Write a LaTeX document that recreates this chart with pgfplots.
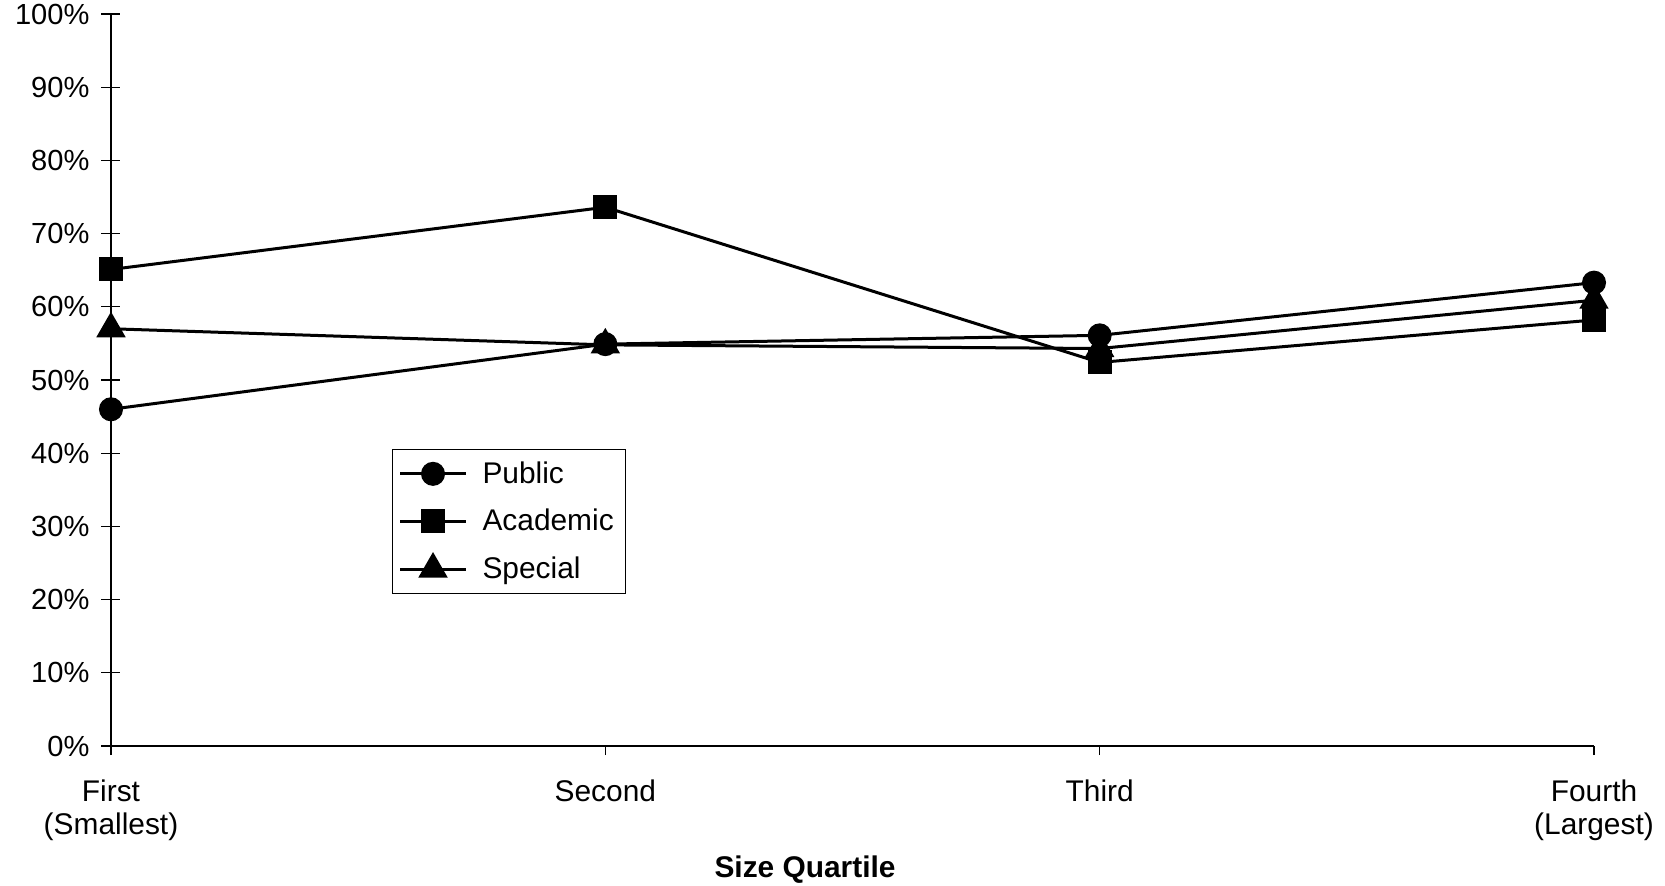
\documentclass[border=0pt]{standalone}
\usepackage{pgfplots}
\pgfplotsset{compat=1.18}
\usepackage{fontspec}
\setmainfont{Liberation Sans}
\begin{document}
\begin{tikzpicture}
\begin{axis}[
  scale only axis,
  width=741.5bp, height=366bp,
  at={(0,0)}, anchor=south west,
  xmin=0, xmax=3, ymin=0, ymax=100,
  axis x line*=bottom, axis y line*=left,
  axis line style={line width=0.6bp, black},
  xtick={0,1,2,3},
  xticklabels={First\\(Smallest), Second, Third, Fourth\\(Largest)},
  xticklabel style={align=center, font=\fontsize{15}{16.5}\selectfont, yshift=-9bp},
  ytick={0,10,...,100},
  yticklabels={0\%,10\%,20\%,30\%,40\%,50\%,60\%,70\%,80\%,90\%,100\%},
  yticklabel style={font=\fontsize{14.6}{16.5}\selectfont, xshift=-3bp},
  xtick style={line width=0.6bp, black, /pgfplots/major tick length=4.5bp},
  ytick style={line width=0.6bp, black, /pgfplots/major tick length=9.5bp},
  tick align=outside,
  y tick style={/pgfplots/tick align=center},
  clip=false,
  legend style={
    at={(rel axis cs:0.1895,0.4057)}, anchor=north west,
    draw=black, line width=0.5bp, fill=white,
    font=\fontsize{15}{16.5}\selectfont,
    row sep=7.5bp, column sep=5.5bp, inner xsep=3bp, inner ysep=4bp,
    text width=66.5bp,
  },
  legend cell align=left,
  legend image code/.code={
    \draw[mark repeat=2,mark phase=2] plot coordinates {(0bp,0bp)(16.5bp,0bp)(33bp,0bp)};
  },
]
\addplot[black, line width=1.5bp, mark=*, mark size=5.25bp, mark options={solid}]
  coordinates {(0,46.0) (1,54.9) (2,56.1) (3,63.3)};
\addlegendentry{Public}
\addplot[black, line width=1.5bp, mark=square*, mark size=5.25bp, mark options={solid}]
  coordinates {(0,65.1) (1,73.6) (2,52.4) (3,58.2)};
\addlegendentry{Academic}
\addplot[black, line width=1.5bp, mark=triangle*, mark size=7bp, mark options={solid}]
  coordinates {(0,57.0) (1,54.8) (2,54.3) (3,60.9)};
\addlegendentry{Special}
\node[font=\fontsize{15}{16.5}\selectfont\bfseries] at (rel axis cs:0.468,0) [yshift=-62bp] {Size Quartile};
\end{axis}
\pgfresetboundingbox
\path[use as bounding box] (-55.5bp,-70bp) rectangle (777bp,373bp);
\end{tikzpicture}
\end{document}
